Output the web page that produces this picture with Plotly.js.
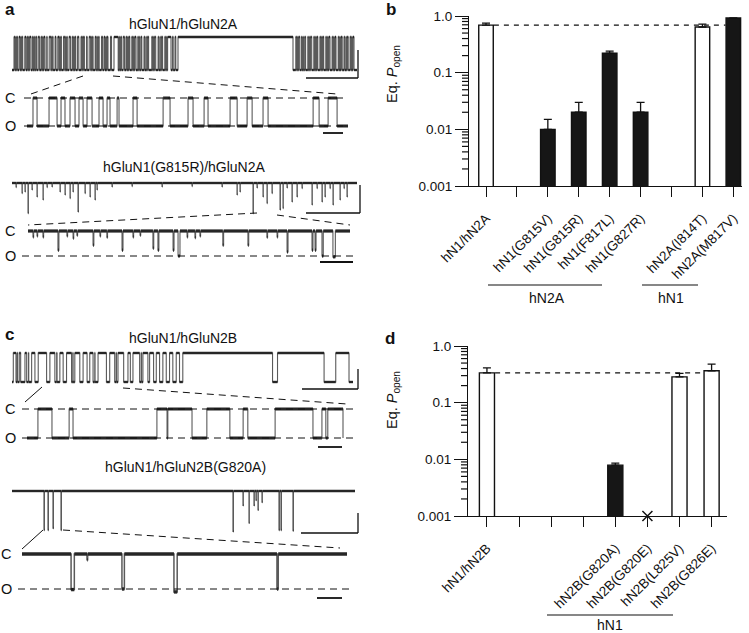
<!DOCTYPE html>
<html><head><meta charset="utf-8">
<script src="https://cdn.plot.ly/plotly-3.0.1.min.js"></script>
<style>html,body{margin:0;padding:0;background:#fff}#plot{width:749px;height:633px}</style>
</head><body><div id="plot"></div>
<script>
// ---------------- DATA ----------------
// Panel b
const bCategories = ['hN1/hN2A','','hN1(G815V)','hN1(G815R)','hN1(F817L)','hN1(G827R)','','hN2A(I814T)','hN2A(M817V)'];
const bPopen      = [0.69, null, 0.010, 0.020, 0.22, 0.020, null, 0.64, 0.92];
const bPopenErr   = [0.06, null, 0.005, 0.010, 0.02, 0.010, null, 0.08, 0.01];
const bFilled     = [false,false,true,true,true,true,false,false,true];
const bGroups     = ['hN2A','hN1'];
// Panel d
const dCategories = ['hN1/hN2B','','','','hN2B(G820A)','hN2B(G820E)','hN2B(L825V)','hN2B(G826E)'];
const dPopen      = [0.335, null, null, null, 0.0079, null, 0.285, 0.365];
const dPopenErr   = [0.075, null, null, null, 0.0007, null, 0.045, 0.115];
const dFilled     = [false,false,false,false,true,false,false,false];
const dNoOpenings = [5];           // G820E: no openings detected (x)
const dGroups     = ['hN1'];
const yTickVals   = [0.001, 0.01, 0.1, 1];
const yTickText   = ['0.001','0.01','0.1','1.0'];

// Single-channel traces (time in ms, current in pA, openings downward)
const openAmp = 6;
const aTopClosed = [[20,28],[38,42],[48,55],[70,82],[92,95],[101,107],[128,140],[152,158],[166,169],[176,190],[205,212],[222,226],[238,246],[262,275],[290,296],[306,309],[318,330],[347,352],[372,388],[396,399],[405,411],[431,440],[458,470],[477,481],[488,494],[515,527],[535,538],[548,553],[571,585],[602,608],[614,617],[628,637],[655,668],[690,696],[703,707],[714,724],[745,752],[772,786],[795,798],[805,811],[832,843],[855,858],[866,872],[895,906],[921,930],[940,943],[952,960],[985,995],[1020,1062],[1073,1077],[1088,1095],[1112,1125],[1140,1147],[1158,1161],[1168,1178],[1198,1206],[1215,1218],[1227,1240],[1258,1264],[1272,1276],[1289,1298],[1320,1327],[1340,1343],[1355,1366],[1398,1405],[1412,1415],[1425,1437],[1461,1467],[1480,1483],[1495,1506],[1528,1535],[1545,1548],[1556,1590],[1605,1612],[1630,1638],[1660,2810],[2838,2846],[2855,2858],[2866,2878],[2895,2902],[2912,2915],[2927,2936],[2958,2964],[2972,2975],[2985,2997],[3018,3024],[3034,3037],[3047,3058],[3079,3086],[3094,3097],[3106,3117],[3138,3144],[3155,3158],[3168,3180],[3201,3207],[3215,3218],[3229,3240],[3262,3268],[3278,3281],[3291,3302],[3320,3327],[3340,3343],[3352,3362],[3381,3388],[3396,3399],[3408,3420]];
const aTopEnd = 3450;
const aBotClosed = [[5.6,9.4],[20.6,28.1],[31.8,35.5],[40.2,44.9],[48.6,52.4],[56.1,60.8],[67.3,71.1],[74.8,77.6],[84.2,86.0],[99.1,102.9],[127.2,133.7],[150.5,155.2],[165.5,169.2],[189.8,196.4],[205.7,210.4],[220.6,225.3],[267.4,273.0],[281.4,289.8]];
const aBotEnd = 300;
const gTopOpen = [[40,3,0.8],[100,3,2.0],[130,3,1.7],[160,4,6.0],[200,3,1.3],[250,3,2.7],[310,3,3.3],[350,3,0.8],[400,3,0.7],[480,3,1.7],[530,3,2.3],[580,3,3.0],[610,3,1.7],[660,4,5.7],[730,3,2.0],[780,3,2.7],[830,3,3.3],[850,3,1.3],[1000,3,0.7],[1200,3,0.6],[1500,3,0.7],[1800,3,0.6],[2100,3,0.7],[2250,3,2.3],[2280,3,1.7],[2410,4,6.0],[2450,3,0.9],[2510,3,2.7],[2550,3,4.0],[2600,3,2.0],[2680,4,5.3],[2710,3,5.0],[2750,3,0.9],[2800,3,3.7],[2850,3,2.7],[2900,3,1.0],[3000,3,4.3],[3050,3,1.0],[3100,3,3.7],[3130,3,2.7],[3180,3,1.0],[3210,3,4.3],[3280,3,3.3],[3320,3,1.0],[3350,3,2.7]];
const gTopEnd = 3450;
const gBotOpen = [[3.1,0.4,1.4],[5.6,0.4,1.2],[9.3,0.4,1.4],[18.6,0.6,4.6],[24.2,0.4,1.2],[28.0,0.4,1.7],[30.4,0.4,1.0],[40.4,0.5,3.4],[44.7,0.4,1.2],[49.0,0.4,1.5],[58.4,0.6,4.6],[65.2,0.4,1.4],[69.6,0.4,1.0],[77.6,0.5,4.1],[80.7,0.6,4.6],[90.1,0.6,4.6],[93.2,1.2,6.0],[98.8,0.4,1.4],[103.7,0.4,1.6],[106.8,0.4,1.2],[121.0,0.5,3.4],[136.6,0.5,3.4],[148.4,0.4,1.5],[154.7,0.4,1.4],[160.9,0.6,5.0],[176.4,0.6,4.6],[178.3,0.6,4.6],[182.6,0.8,6.0],[189.4,1.5,6.2]];
const gBotEnd = 200;
const cTopClosed = [[13,40],[52,56],[73,87],[130,147],[165,168],[197,230],[263,347],[380,430],[448,452],[480,513],[547,597],[610,613],[630,680],[713,753],[780,813],[830,833],[863,947],[980,1030],[1045,1048],[1063,1120],[1163,1187],[1213,1280],[1296,1299],[1313,1363],[1380,1420],[1447,1480],[1513,1547],[1580,1613],[1647,1680],[1713,2613],[2663,3130],[3247,3380]];
const cTopEnd = 3420;
const cBotClosed = [[28,64],[108,118],[333,359],[361,423],[461,520],[554,566],[636,733],[756,766],[771,810]];
const cBotEnd = 810;
const eTopOpen = [[320,4,6.0],[360,4,6.0],[410,4,5.7],[490,4,6.0],[2210,4,6.2],[2310,3,2.2],[2370,3,4.9],[2420,3,2.2],[2440,3,1.4],[2460,3,2.9],[2500,3,1.7],[2670,4,6.0],[2690,4,6.0],[2810,4,6.1]];
const eTopEnd = 3430;
const eBotOpen = [[30.2,2.0,6.1],[40.0,0.4,1.0],[61.5,1.5,6.0],[93.5,2.0,6.5],[156.9,0.8,6.0]];
const eBotEnd = 200;

// ---------------- LAYOUT HELPERS ----------------
const W = 749, H = 633;
const FONT = 'Liberation Sans, Arial, Helvetica, sans-serif';
const px = p => p / W, py = p => 1 - p / H;
const layout = {width:W, height:H, margin:{l:0,r:0,t:0,b:0}, showlegend:false,
  paper_bgcolor:'#fff', plot_bgcolor:'rgba(0,0,0,0)', font:{family:FONT, color:'#111'},
  shapes:[], annotations:[]};
const data = [];

function placeTrace(n, x0, x1, yC, yO, tEnd) {
  const padX = 4, padY = 14;
  const sx = tEnd / (x1 - x0), sy = openAmp / (yO - yC);
  layout['xaxis'+n] = {domain:[px(x0-padX), px(x1+padX)], range:[-padX*sx, tEnd+padX*sx],
    visible:false, fixedrange:true, anchor:'y'+n};
  layout['yaxis'+n] = {domain:[py(yO+padY), py(yC-padY)], range:[-openAmp-padY*sy, padY*sy],
    visible:false, fixedrange:true, anchor:'x'+n};
}
function pathHigh(closed, tEnd) {
  const x=[0], y=[-openAmp];
  closed.forEach(([s,e]) => { x.push(s,s,e,e); y.push(-openAmp,0,0,-openAmp); });
  x.push(tEnd); y.push(-openAmp); return {x,y};
}
function pathLow(open, tEnd) {
  const x=[0], y=[0];
  open.forEach(([t,d,a]) => { x.push(t,t,t+d,t+d); y.push(0,-a,-a,0); });
  x.push(tEnd); y.push(0); return {x,y};
}
function levels(p) {
  const x=[], y=[];
  for (let i=0;i<p.x.length-1;i++) if (p.y[i]===p.y[i+1] && p.x[i+1]>p.x[i]) { x.push(p.x[i],p.x[i+1],null); y.push(p.y[i],p.y[i+1],null); }
  return {x,y};
}
function addTrace(n, p, thick, thin) {
  data.push({type:'scatter', mode:'lines', x:p.x, y:p.y, xaxis:'x'+n, yaxis:'y'+n,
    line:{color:'#5a5a5a', width:thin}, hoverinfo:'skip'});
  const l = levels(p);
  data.push({type:'scatter', mode:'lines', x:l.x, y:l.y, xaxis:'x'+n, yaxis:'y'+n,
    line:{color:'#262626', width:thick}, hoverinfo:'skip', connectgaps:false});
}
function line(x0,y0,x1,y1,dash,w) {
  layout.shapes.push({type:'line', xref:'paper', yref:'paper', x0:px(x0), y0:py(y0), x1:px(x1), y1:py(y1),
    line:{color:'#111', width:w||1, dash:dash||'solid'}});
}
function text(t,x,y,size,opts) {
  layout.annotations.push(Object.assign({text:t, xref:'paper', yref:'paper', x:px(x), y:py(y),
    showarrow:false, font:{family:FONT, size:size, color:'#111'}, xanchor:'center', yanchor:'middle'}, opts||{}));
}
const DASH = '7px,5px';

// ---------------- TRACES ----------------
placeTrace(3, 12, 357, 37, 70, aTopEnd);   addTrace(3, pathHigh(aTopClosed, aTopEnd), 2.4, 1.1);
placeTrace(4, 27, 348, 98, 126, aBotEnd);  addTrace(4, pathHigh(aBotClosed, aBotEnd), 3.0, 1.1);
placeTrace(5, 12, 357, 183, 213, gTopEnd); addTrace(5, pathLow(gTopOpen, gTopEnd), 2.4, 1.1);
placeTrace(6, 28, 350, 231, 256, gBotEnd); addTrace(6, pathLow(gBotOpen, gBotEnd), 3.2, 1.1);
placeTrace(7, 12, 353, 353, 382, cTopEnd); addTrace(7, pathHigh(cTopClosed, cTopEnd), 2.4, 1.1);
placeTrace(8, 27, 343, 409, 438, cBotEnd); addTrace(8, pathHigh(cBotClosed, cBotEnd), 3.0, 1.1);
placeTrace(9, 12, 355, 491, 530, eTopEnd); addTrace(9, pathLow(eTopOpen, eTopEnd), 2.4, 1.2);
placeTrace(10, 22, 347, 554, 589, eBotEnd); addTrace(10, pathLow(eBotOpen, eBotEnd), 3.4, 1.5);

line(24,98,348,98,DASH); line(24,126,348,126,DASH);
line(22,256,355,256,DASH);
line(22,409,355,409,DASH); line(22,438,355,438,DASH);
line(18,589,350,589,DASH);
[[98,126,10],[231,256,10],[409,438,10],[554,589,6]].forEach(([c,o,x]) => { text('C',x,c,14.5); text('O',x,o,14.5); });

line(83,76,28,95,DASH); line(113,76,337,94,DASH);
line(257,213,28,225,DASH); line(277,215,350,225,DASH);
line(42,387,25,402); line(123,388,347,404,DASH);
line(43,530,22,549); line(63,530,340,548,DASH);

line(358,50,358,78,'solid',1.3); line(306,78,358,78,'solid',1.3); line(323,133,343,133,'solid',1.8);
line(360,185,360,213,'solid',1.3); line(306,213,360,213,'solid',1.3); line(320,262,353,262,'solid',1.8);
line(358,369,358,389,'solid',1.3); line(302,389,358,389,'solid',1.3); line(318,447,342,447,'solid',1.8);
line(358,513,358,533,'solid',1.3); line(301,533,358,533,'solid',1.3); line(317,598,342,598,'solid',1.8);

text('hGluN1/hGluN2A',183,24,14);
text('hGluN1(G815R)/hGluN2A',184,167,14);
text('hGluN1/hGluN2B',183,338,14);
text('hGluN1/hGluN2B(G820A)',185,467,14);
text('<b>a</b>',3,9,17,{xanchor:'left'});
text('<b>b</b>',384,9,17,{xanchor:'left'});
text('<b>c</b>',3,334,17,{xanchor:'left'});
text('<b>d</b>',383,338,17,{xanchor:'left'});

// ---------------- BAR PANELS ----------------
const barW = 0.47;
function barPanel(n, cats, vals, errs, filled) {
  const idx = cats.map((_,i)=>i);
  data.push({type:'scatter', mode:'lines', x:[barW/2+0.02, cats.length-1-barW/2-0.02], y:[vals[0], vals[0]],
    xaxis:'x'+n, yaxis:'y'+n, line:{color:'#111', width:1.2, dash:'5px,5px'}, hoverinfo:'skip'});
  data.push({type:'bar', x:idx, y:vals, width:barW, xaxis:'x'+n, yaxis:'y'+n,
    marker:{color:filled.map(f=>f?'#161616':'#ffffff'), line:{color:'#111', width:1.4}},
    error_y:{type:'data', symmetric:false, array:errs.map(e=>e==null?0:e), arrayminus:errs.map(()=>0),
      color:'#111', thickness:1.3, width:4, visible:true}, hoverinfo:'skip'});
}
barPanel('', bCategories, bPopen, bPopenErr, bFilled);
barPanel(2, dCategories, dPopen, dPopenErr, dFilled);
data.push({type:'scatter', mode:'markers', x:dNoOpenings, y:dNoOpenings.map(()=>yTickVals[0]), xaxis:'x2', yaxis:'y2',
  marker:{symbol:'x-thin', size:10, line:{color:'#111', width:1.5}}, cliponaxis:false, hoverinfo:'skip'});

function xAx(dom, range, cats, anchor) {
  return {domain:dom, range:range, anchor:anchor, tickvals:cats.map((_,i)=>i), ticktext:cats, tickangle:-45,
    ticks:'outside', ticklen:10, tickwidth:1.2, tickcolor:'#111', showline:true, linecolor:'#111', linewidth:1.2,
    showgrid:false, zeroline:false, ticklabelstandoff:8, tickfont:{family:FONT, size:13.5, color:'#111'}};
}
function yAx(dom, anchor) {
  return {type:'log', domain:dom, range:[-3,0], anchor:anchor, tickvals:yTickVals, ticktext:yTickText,
    ticks:'outside', ticklen:13, tickcolor:'#111', showline:true, linecolor:'#111', linewidth:1.2,
    showgrid:false, zeroline:false, tickfont:{family:FONT, size:13.5, color:'#111'}};
}
layout.xaxis  = xAx([px(469), px(742)], [-0.55, 8.28], bCategories, 'y');
layout.yaxis  = yAx([py(186), py(16)], 'x');
layout.xaxis2 = xAx([px(468), px(727)], [-0.59, 7.48], dCategories, 'y2');
layout.yaxis2 = yAx([py(516), py(346)], 'x2');

// minor log ticks (2..9 of each decade): short lines on the log y scale, in a strip just left of each axis
const minorVals = [];
[0.001,0.01,0.1].forEach(dec => { for (let k=2;k<=9;k++) minorVals.push(dec*k); });
function minorTicks(xa, ya, axisPx) {
  const stripL = axisPx - 29;
  layout['xaxis'+xa] = {domain:[px(stripL), px(axisPx)], range:[0, 29], visible:false, fixedrange:true, anchor:ya};
  const x=[], y=[];
  minorVals.forEach(v => { x.push(22, 29, null); y.push(v, v, null); });
  data.push({type:'scatter', mode:'lines', x:x, y:y, xaxis:'x'+xa, yaxis:ya, line:{color:'#111', width:1.2}, hoverinfo:'skip'});
}
minorTicks(13, 'y', 469);
minorTicks(14, 'y2', 468);

text('Eq. <i>P</i><sub>open</sub>',393,74,14.5,{textangle:-90});
text('Eq. <i>P</i><sub>open</sub>',393,400,14.5,{textangle:-90});
line(488,285,602,285,'solid',1.2); text(bGroups[0],547,298,14);
line(642,285,698,285,'solid',1.2); text(bGroups[1],671,298,14);
line(547,615,673,615,'solid',1.2); text(dGroups[0],610,625,14);

Plotly.newPlot('plot', data, layout, {displayModeBar:false});
</script></body></html>
